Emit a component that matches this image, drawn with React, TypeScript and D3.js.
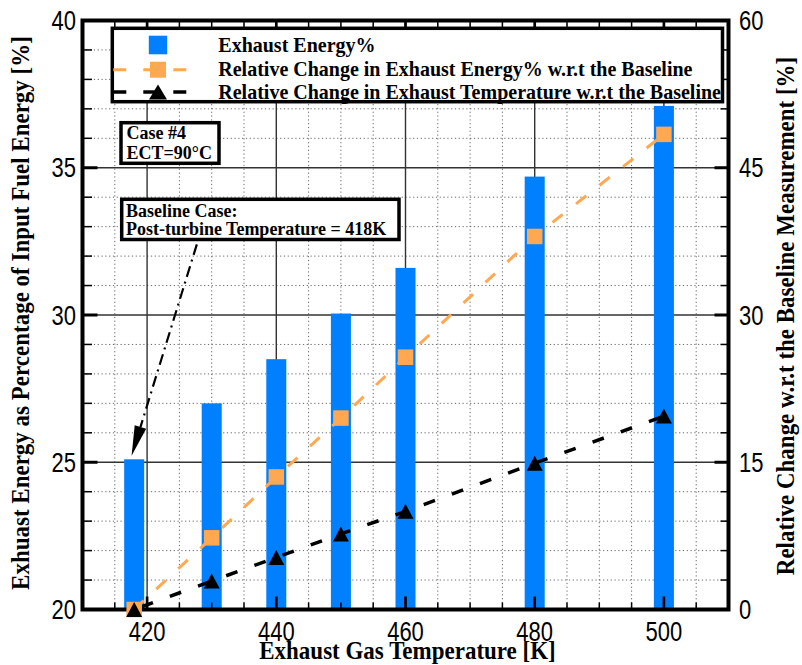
import React from 'react';
import * as d3 from 'd3';

const temps = [418, 430, 440, 450, 460, 480, 500];
const exhaustEnergy = [25.1, 27.0, 28.5, 30.05, 31.6, 34.7, 37.1];
const relEnergyChange = [0, 7.3, 13.5, 19.5, 25.7, 38.0, 48.4];
const relTempChange = [0, 2.9, 5.3, 7.7, 10.0, 14.9, 19.7];
const xTicks = [420, 440, 460, 480, 500];
const yLeftTicks = [20, 25, 30, 35, 40];
const yRightTicks = [0, 15, 30, 45, 60];
const legendLabels = [
  'Exhaust Energy%',
  'Relative Change in Exhaust Energy% w.r.t the Baseline',
  'Relative Change in Exhaust Temperature w.r.t the Baseline',
];
const xTitle = 'Exhaust Gas Temperature [K]';
const yLeftTitle = 'Exhuast Energy as Percentage of Input Fuel Energy [%]';
const yRightTitle = 'Relative Change w.r.t the Baseline Measurement [%]';
const caseLines = ['Case #4', 'ECT=90°C'];
const baselineLines = ['Baseline Case:', 'Post-turbine Temperature = 418K'];
// arrow annotation in data coordinates: [x, yLeft]
const arrowFrom = [427.7, 32.4];
const arrowTo = [417.6, 25.22];

const W = 802, H = 665;
const L = 82.5, R = 728.5, T = 20.5, B = 609.5;
const BLUE = '#0080ff';
const ORANGE = '#ffa852';
const SERIF = "'Liberation Serif', 'Times New Roman', serif";
const SANS = "'Liberation Sans', Arial, sans-serif";
const LABEL_STRETCH = 1.22;
const TITLE_STRETCH = 1.12;

export default function App() {
  const x = d3.scaleLinear().domain([410, 510]).range([L, R]);
  const yL = d3.scaleLinear().domain([20, 40]).range([B, T]);
  const yR = d3.scaleLinear().domain([0, 60]).range([B, T]);

  const xMinor = d3.range(410, 510.01, 5).filter(v => v > 410 && v < 510 && !xTicks.includes(v));
  const yMinor = d3.range(20, 40.01, 1).filter(v => v > 20 && v < 40 && !yLeftTicks.includes(v));
  const xMajorInner = xTicks;
  const yMajorInner = yLeftTicks.filter(v => v > 20 && v < 40);

  const barHalf = 1.55;
  const line = d3.line<number>().x((_, i) => x(temps[i])).y(d => yR(d));

  const sq = 15.5;
  const triW = 16, triH = 15;
  const tri = (cx: number, cy: number, w = triW, h = triH) =>
    `M${cx},${cy - h / 2}L${cx + w / 2},${cy + h / 2}L${cx - w / 2},${cy + h / 2}Z`;

  // arrow
  const ax0 = x(arrowFrom[0]), ay0 = yL(arrowFrom[1]);
  const ax1 = x(arrowTo[0]), ay1 = yL(arrowTo[1]);
  const ang = Math.atan2(ay1 - ay0, ax1 - ax0);
  const headLen = 30, headHalf = 6;
  const bx = ax1 - headLen * Math.cos(ang), by = ay1 - headLen * Math.sin(ang);
  const px = -Math.sin(ang), py = Math.cos(ang);
  const head = `M${ax1},${ay1}L${bx + px * headHalf},${by + py * headHalf}L${bx - px * headHalf},${by - py * headHalf}Z`;

  const legX = 112.3, legY = 28.3, legW = 610.2, legH = 73.4;
  const rowY = [45, 69.7, 92];
  const textBase = [51.7, 76, 99.3];
  const symX = 158;

  const st = (tx: number, ty: number, s: number, rot = 0) =>
    `translate(${tx},${ty})${rot ? ` rotate(${rot})` : ''} scale(1,${s})`;

  return (
    <svg width={W} height={H} style={{ position: 'absolute', left: 0, top: 0, background: '#fff' }}>
      <rect x={0} y={0} width={W} height={H} fill="#fff" />
      {/* minor grid */}
      <g stroke="#666" strokeWidth={1} strokeDasharray="1.2 2.6">
        {xMinor.map(v => (
          <line key={'xm' + v} x1={x(v)} x2={x(v)} y1={T} y2={B} />
        ))}
        {yMinor.map(v => (
          <line key={'ym' + v} x1={L} x2={R} y1={yL(v)} y2={yL(v)} />
        ))}
      </g>
      {/* major grid */}
      <g stroke="#333" strokeWidth={1.4}>
        {xMajorInner.map(v => (
          <line key={'xM' + v} x1={x(v)} x2={x(v)} y1={T} y2={B} />
        ))}
        {yMajorInner.map(v => (
          <line key={'yM' + v} x1={L} x2={R} y1={yL(v)} y2={yL(v)} />
        ))}
      </g>
      {/* bars */}
      <g fill={BLUE}>
        {temps.map((t, i) => (
          <rect
            key={'b' + t}
            x={x(t - barHalf)}
            width={x(t + barHalf) - x(t - barHalf)}
            y={yL(exhaustEnergy[i])}
            height={yL(20) - yL(exhaustEnergy[i])}
          />
        ))}
      </g>
      {/* lines */}
      <path d={line(relEnergyChange) || ''} fill="none" stroke={ORANGE} strokeWidth={3} strokeDasharray="13 17" />
      <path d={line(relTempChange) || ''} fill="none" stroke="#000" strokeWidth={3.5} strokeDasharray="12 18" strokeDashoffset={-8} />
      {/* frame ticks */}
      <g stroke="#000">
        {yMinor.map(v => (
          <g key={'yt' + v} strokeWidth={1.5}>
            <line x1={L} x2={L + 9.5} y1={yL(v)} y2={yL(v)} />
            <line x1={R} x2={R - 8} y1={yL(v)} y2={yL(v)} />
          </g>
        ))}
        {yMajorInner.map(v => (
          <g key={'yT' + v} strokeWidth={3}>
            <line x1={L} x2={L + 15} y1={yL(v)} y2={yL(v)} />
            <line x1={R} x2={R - 14} y1={yL(v)} y2={yL(v)} />
          </g>
        ))}
        {xMinor.map(v => (
          <g key={'xt' + v} strokeWidth={1.5}>
            <line x1={x(v)} x2={x(v)} y1={B} y2={B - 7} />
            <line x1={x(v)} x2={x(v)} y1={T} y2={T + 8} />
          </g>
        ))}
        {xMajorInner.map(v => (
          <g key={'xT' + v} strokeWidth={2.7}>
            <line x1={x(v)} x2={x(v)} y1={B} y2={B - 13} />
            <line x1={x(v)} x2={x(v)} y1={T} y2={T + 13} />
          </g>
        ))}
      </g>
      <rect x={L} y={T} width={R - L} height={B - T} fill="none" stroke="#000" strokeWidth={4} />
      {/* markers */}
      <g fill={ORANGE}>
        {temps.map((t, i) => (
          <rect key={'s' + t} x={x(t) - sq / 2} y={yR(relEnergyChange[i]) - sq / 2} width={sq} height={sq} />
        ))}
      </g>
      <g fill="#000">
        {temps.map((t, i) => (
          <path key={'t' + t} d={tri(x(t), yR(relTempChange[i]))} />
        ))}
      </g>
      {/* legend */}
      <rect x={legX} y={legY} width={legW} height={legH} fill="#fff" stroke="#000" strokeWidth={3.5} />
      <rect x={symX - 9.2} y={rowY[0] - 9.3} width={18.4} height={18.6} fill={BLUE} />
      <line x1={legX + 1} x2={188} y1={rowY[1]} y2={rowY[1]} stroke={ORANGE} strokeWidth={3} strokeDasharray="13 17" />
      <rect x={symX - 8} y={rowY[1] - 8} width={16} height={16} fill={ORANGE} />
      <line x1={legX + 1} x2={188} y1={rowY[2]} y2={rowY[2]} stroke="#000" strokeWidth={3.5} strokeDasharray="13 17" />
      <path d={tri(symX, rowY[2], 18, 15)} fill="#000" />
      <g fontFamily={SERIF} fontWeight="bold" fontSize={20} fill="#000">
        {legendLabels.map((s, i) => (
          <text key={'l' + i} transform={st(218.3, textBase[i], 1.05)}>{s}</text>
        ))}
      </g>
      {/* annotations */}
      <rect x={121} y={122.7} width={98} height={40.6} fill="#fff" stroke="#000" strokeWidth={3.5} />
      <g fontFamily={SERIF} fontWeight="bold" fontSize={18} fill="#000">
        <text transform={st(126.5, 139.3, 1.05)}>{caseLines[0]}</text>
        <text transform={st(126.5, 159.3, 1.05)}>{caseLines[1]}</text>
      </g>
      <rect x={121.7} y={199.3} width={277.3} height={40.2} fill="#fff" stroke="#000" strokeWidth={3.5} />
      <g fontFamily={SERIF} fontWeight="bold" fontSize={18} fill="#000">
        <text transform={st(126, 216.7, 1.05)}>{baselineLines[0]}</text>
        <text transform={st(126, 234.5, 1.05)}>{baselineLines[1]}</text>
      </g>
      <line x1={ax0} y1={ay0} x2={bx} y2={by} stroke="#000" strokeWidth={2.2} strokeDasharray="11 5 2 5" />
      <path d={head} fill="#000" />
      {/* tick labels */}
      <g fontFamily={SANS} fontSize={22} fill="#000">
        {yLeftTicks.map(v => (
          <text key={'yl' + v} transform={st(76, yL(v) + 9.5, LABEL_STRETCH)} textAnchor="end">{v}</text>
        ))}
        {yRightTicks.map(v => (
          <text key={'yr' + v} transform={st(739, yR(v) + 9.5, LABEL_STRETCH)} textAnchor="start">{v}</text>
        ))}
        {xTicks.map(v => (
          <text key={'xl' + v} transform={st(x(v), 641, LABEL_STRETCH)} textAnchor="middle">{v}</text>
        ))}
      </g>
      {/* titles */}
      <g fontFamily={SERIF} fontWeight="bold" fontSize={23} fill="#000">
        <text transform={st((L + R) / 2 + 2, 659, TITLE_STRETCH)} textAnchor="middle">{xTitle}</text>
        <text transform={st(29, 313, TITLE_STRETCH, -90)} textAnchor="middle">{yLeftTitle}</text>
        <text transform={st(794, 316, TITLE_STRETCH, -90)} textAnchor="middle">{yRightTitle}</text>
      </g>
    </svg>
  );
}
